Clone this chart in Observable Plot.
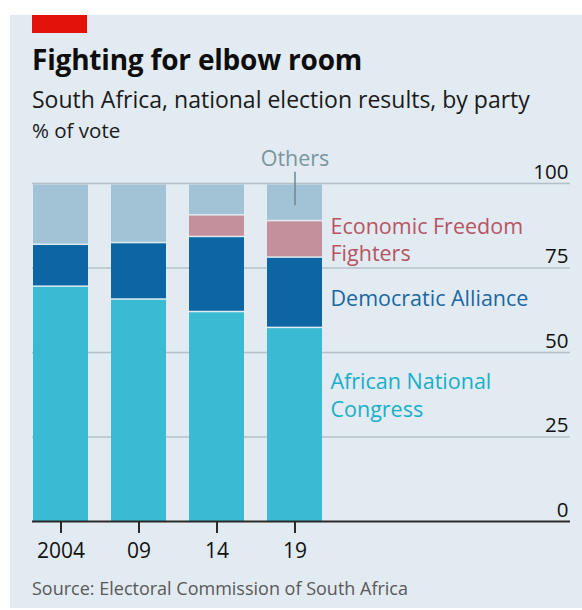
<!DOCTYPE html>
<html>
<head>
<meta charset="utf-8">
<script src="https://cdn.jsdelivr.net/npm/d3@7"></script>
<script src="https://cdn.jsdelivr.net/npm/@observablehq/plot@0.6"></script>
<style>
  html, body { margin: 0; padding: 0; background: #ffffff; }
  body { width: 582px; height: 610px; position: relative; overflow: hidden; font-family: "Open Sans", sans-serif; }
  #panel { position: absolute; left: 10px; top: 15px; width: 572px; height: 593px; background: #e1ebf1; }
  #redbar { position: absolute; left: 32px; top: 15px; width: 55px; height: 18px; background: #e3120b; }
  .t { position: absolute; left: 32px; white-space: nowrap; line-height: 1; }
  #title { top: 45px; font-size: 28px; font-weight: 700; color: #0d0d0d; letter-spacing: -0.2px; }
  #subtitle { top: 88px; font-size: 23px; color: #1a1a1a; }
  #unit { top: 120px; font-size: 20.5px; color: #1a1a1a; }
  #source { top: 579px; font-size: 18px; color: #595959; }
  #chart { position: absolute; left: 0; top: 140px; }
</style>
</head>
<body>
<div id="panel"></div>
<div id="redbar"></div>
<div class="t" id="title">Fighting for elbow room</div>
<div class="t" id="subtitle">South Africa, national election results, by party</div>
<div class="t" id="unit">% of vote</div>
<div id="chart"></div>
<div class="t" id="source">Source: Electoral Commission of South Africa</div>
<script>
// ---- data ----
const years = ["2004", "09", "14", "19"];
const parties = ["African National Congress", "Democratic Alliance", "Economic Freedom Fighters", "Others"];
const anc = [69.7, 65.9, 62.2, 57.5];
const da = [12.4, 16.7, 22.2, 20.8];
const eff = [0, 0, 6.4, 10.8];
const others = [17.9, 17.4, 9.2, 10.9];
const partyColors = ["#3bbbd3", "#0b66a3", "#c4909b", "#a2c3d6"];
const labelColors = ["#17afcb", "#1a67a3", "#b85462", "#7d949e"];
const labelText = ["African National\nCongress", "Democratic Alliance", "Economic Freedom\nFighters"];
const labelY = [37.6, 66.3, 83.7];
const yTicks = [0, 25, 50, 75, 100];
const gridTicks = [25, 50, 75, 100];

const series = [anc, da, eff, others];
const rows = [];
years.forEach((yr, i) => {
  parties.forEach((p, j) => {
    if (series[j][i] > 0) rows.push({year: yr, party: p, value: series[j][i]});
  });
});
const labels = labelText.map((t, i) => ({text: t, y: labelY[i], color: labelColors[i]}));

const chart = Plot.plot({
  width: 582,
  height: 440,
  marginTop: 43,
  marginBottom: 59,
  marginLeft: 32,
  marginRight: 12,
  style: {background: "transparent", fontFamily: "Open Sans, sans-serif", overflow: "visible"},
  x: {domain: years, range: [32, 322], paddingInner: 0.3, paddingOuter: 0, axis: null},
  y: {domain: [0, 100], axis: null},
  color: {domain: parties, range: partyColors},
  marks: [
    Plot.ruleY(gridTicks, {stroke: "#b4c0c7", strokeWidth: 1.5}),
    Plot.barY(rows, {x: "year", y: "value", fill: "party", insetTop: 1.5}),
    Plot.ruleY([0], {stroke: "#2a2a2a", strokeWidth: 2}),
    Plot.axisX({label: null, tickSize: 12, tickPadding: 10, fontSize: 21, stroke: "#2a2a2a", strokeWidth: 2, color: "#111", lineAnchor: "top"}),
    Plot.axisY({label: null, anchor: "right", ticks: yTicks, tickSize: 0, tickPadding: 0, textAnchor: "end", lineAnchor: "bottom", dx: -2, dy: -5, fontSize: 20.5, color: "#111"}),
    Plot.text(labels, {x: () => "19", y: "y", text: "text", fill: "color", textAnchor: "start", lineAnchor: "middle", dx: 35.5, fontSize: 21.5, lineHeight: 1.28}),
    Plot.ruleX(["19"], {y1: 103.3, y2: 93.4, stroke: "#6e8792", strokeWidth: 1.5}),
    Plot.text(["Others"], {x: () => "19", y: () => 105.3, text: d => d, fill: labelColors[3], textAnchor: "middle", lineAnchor: "bottom", fontSize: 21.5})
  ]
});
document.getElementById("chart").appendChild(chart);
</script>
</body>
</html>
